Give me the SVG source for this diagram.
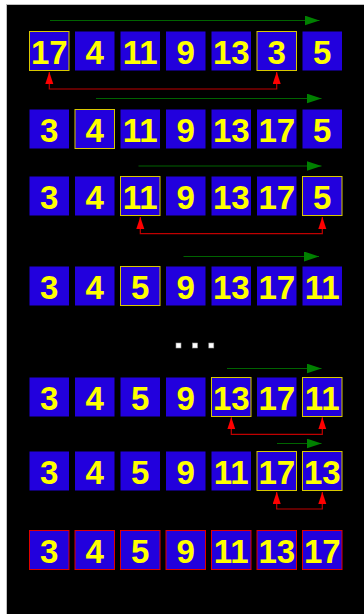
<svg xmlns="http://www.w3.org/2000/svg" width="364" height="614" viewBox="0 0 364 614">
<style>
.b{fill:#2200dd;stroke:none}
.h{fill:#2200dd;stroke:#d8c800;stroke-width:1}
.f{fill:#2200dd;stroke:#e00000;stroke-width:1}
.t{fill:#ffff00;font-family:"Liberation Sans",Arial,sans-serif;font-weight:bold;font-size:33px;text-anchor:middle}
.g{stroke:#006400;stroke-width:1;fill:none}
.r{stroke:#c00000;stroke-width:1.2;fill:none}
.d{fill:#ffffff;stroke:#999999;stroke-width:0.6}
</style>
<defs>
<marker id="ga" markerUnits="userSpaceOnUse" markerWidth="16" markerHeight="11" refX="15" refY="5" orient="auto"><path d="M0,0 L15,5 L0,10 Z" fill="#008000"/></marker>
<marker id="ra" markerUnits="userSpaceOnUse" markerWidth="13" markerHeight="9" refX="12" refY="4" orient="auto-start-reverse"><path d="M0,0 L12,4 L0,8 Z" fill="#ff0000"/></marker>
</defs>
<rect x="0" y="0" width="364" height="614" fill="#ffffff"/>
<rect x="6.5" y="4.5" width="360" height="612" fill="#000000" stroke="#c0c0c0" stroke-width="1"/>
<g id="r1">
<g id="n1_1"><rect class="h" x="29.5" y="31.5" width="39.5" height="39"/><text class="t" x="49.25" y="63.5">17</text></g>
<g id="n1_2"><rect class="b" x="75" y="31.5" width="39.5" height="39"/><text class="t" x="94.75" y="63.5">4</text></g>
<g id="n1_3"><rect class="b" x="120.5" y="31.5" width="39.5" height="39"/><text class="t" x="140.25" y="63.5">11</text></g>
<g id="n1_4"><rect class="b" x="166" y="31.5" width="39.5" height="39"/><text class="t" x="185.75" y="63.5">9</text></g>
<g id="n1_5"><rect class="b" x="211.5" y="31.5" width="39.5" height="39"/><text class="t" x="231.25" y="63.5">13</text></g>
<g id="n1_6"><rect class="h" x="257" y="31.5" width="39.5" height="39"/><text class="t" x="276.75" y="63.5">3</text></g>
<g id="n1_7"><rect class="b" x="302.5" y="31.5" width="39.5" height="39"/><text class="t" x="322.25" y="63.5">5</text></g>
</g>
<g id="r2">
<g id="n2_1"><rect class="b" x="29.5" y="109.5" width="39.5" height="39"/><text class="t" x="49.25" y="141.5">3</text></g>
<g id="n2_2"><rect class="h" x="75" y="109.5" width="39.5" height="39"/><text class="t" x="94.75" y="141.5">4</text></g>
<g id="n2_3"><rect class="b" x="120.5" y="109.5" width="39.5" height="39"/><text class="t" x="140.25" y="141.5">11</text></g>
<g id="n2_4"><rect class="b" x="166" y="109.5" width="39.5" height="39"/><text class="t" x="185.75" y="141.5">9</text></g>
<g id="n2_5"><rect class="b" x="211.5" y="109.5" width="39.5" height="39"/><text class="t" x="231.25" y="141.5">13</text></g>
<g id="n2_6"><rect class="b" x="257" y="109.5" width="39.5" height="39"/><text class="t" x="276.75" y="141.5">17</text></g>
<g id="n2_7"><rect class="b" x="302.5" y="109.5" width="39.5" height="39"/><text class="t" x="322.25" y="141.5">5</text></g>
</g>
<g id="r3">
<g id="n3_1"><rect class="b" x="29.5" y="176.5" width="39.5" height="39"/><text class="t" x="49.25" y="208.5">3</text></g>
<g id="n3_2"><rect class="b" x="75" y="176.5" width="39.5" height="39"/><text class="t" x="94.75" y="208.5">4</text></g>
<g id="n3_3"><rect class="h" x="120.5" y="176.5" width="39.5" height="39"/><text class="t" x="140.25" y="208.5">11</text></g>
<g id="n3_4"><rect class="b" x="166" y="176.5" width="39.5" height="39"/><text class="t" x="185.75" y="208.5">9</text></g>
<g id="n3_5"><rect class="b" x="211.5" y="176.5" width="39.5" height="39"/><text class="t" x="231.25" y="208.5">13</text></g>
<g id="n3_6"><rect class="b" x="257" y="176.5" width="39.5" height="39"/><text class="t" x="276.75" y="208.5">17</text></g>
<g id="n3_7"><rect class="h" x="302.5" y="176.5" width="39.5" height="39"/><text class="t" x="322.25" y="208.5">5</text></g>
</g>
<g id="r4">
<g id="n4_1"><rect class="b" x="29.5" y="266.5" width="39.5" height="39"/><text class="t" x="49.25" y="298.5">3</text></g>
<g id="n4_2"><rect class="b" x="75" y="266.5" width="39.5" height="39"/><text class="t" x="94.75" y="298.5">4</text></g>
<g id="n4_3"><rect class="h" x="120.5" y="266.5" width="39.5" height="39"/><text class="t" x="140.25" y="298.5">5</text></g>
<g id="n4_4"><rect class="b" x="166" y="266.5" width="39.5" height="39"/><text class="t" x="185.75" y="298.5">9</text></g>
<g id="n4_5"><rect class="b" x="211.5" y="266.5" width="39.5" height="39"/><text class="t" x="231.25" y="298.5">13</text></g>
<g id="n4_6"><rect class="b" x="257" y="266.5" width="39.5" height="39"/><text class="t" x="276.75" y="298.5">17</text></g>
<g id="n4_7"><rect class="b" x="302.5" y="266.5" width="39.5" height="39"/><text class="t" x="322.25" y="298.5">11</text></g>
</g>
<g id="ellipsis">
<rect class="d" x="176" y="343" width="5" height="5"/>
<rect class="d" x="192.5" y="343" width="5" height="5"/>
<rect class="d" x="208.8" y="343" width="5" height="5"/>
</g>
<g id="r5">
<g id="n5_1"><rect class="b" x="29.5" y="377.5" width="39.5" height="39"/><text class="t" x="49.25" y="409.5">3</text></g>
<g id="n5_2"><rect class="b" x="75" y="377.5" width="39.5" height="39"/><text class="t" x="94.75" y="409.5">4</text></g>
<g id="n5_3"><rect class="b" x="120.5" y="377.5" width="39.5" height="39"/><text class="t" x="140.25" y="409.5">5</text></g>
<g id="n5_4"><rect class="b" x="166" y="377.5" width="39.5" height="39"/><text class="t" x="185.75" y="409.5">9</text></g>
<g id="n5_5"><rect class="h" x="211.5" y="377.5" width="39.5" height="39"/><text class="t" x="231.25" y="409.5">13</text></g>
<g id="n5_6"><rect class="b" x="257" y="377.5" width="39.5" height="39"/><text class="t" x="276.75" y="409.5">17</text></g>
<g id="n5_7"><rect class="h" x="302.5" y="377.5" width="39.5" height="39"/><text class="t" x="322.25" y="409.5">11</text></g>
</g>
<g id="r6">
<g id="n6_1"><rect class="b" x="29.5" y="451.5" width="39.5" height="39"/><text class="t" x="49.25" y="483.5">3</text></g>
<g id="n6_2"><rect class="b" x="75" y="451.5" width="39.5" height="39"/><text class="t" x="94.75" y="483.5">4</text></g>
<g id="n6_3"><rect class="b" x="120.5" y="451.5" width="39.5" height="39"/><text class="t" x="140.25" y="483.5">5</text></g>
<g id="n6_4"><rect class="b" x="166" y="451.5" width="39.5" height="39"/><text class="t" x="185.75" y="483.5">9</text></g>
<g id="n6_5"><rect class="b" x="211.5" y="451.5" width="39.5" height="39"/><text class="t" x="231.25" y="483.5">11</text></g>
<g id="n6_6"><rect class="h" x="257" y="451.5" width="39.5" height="39"/><text class="t" x="276.75" y="483.5">17</text></g>
<g id="n6_7"><rect class="h" x="302.5" y="451.5" width="39.5" height="39"/><text class="t" x="322.25" y="483.5">13</text></g>
</g>
<g id="r7">
<g id="n7_1"><rect class="f" x="29.5" y="530.5" width="39.5" height="39"/><text class="t" x="49.25" y="562.5">3</text></g>
<g id="n7_2"><rect class="f" x="75" y="530.5" width="39.5" height="39"/><text class="t" x="94.75" y="562.5">4</text></g>
<g id="n7_3"><rect class="f" x="120.5" y="530.5" width="39.5" height="39"/><text class="t" x="140.25" y="562.5">5</text></g>
<g id="n7_4"><rect class="f" x="166" y="530.5" width="39.5" height="39"/><text class="t" x="185.75" y="562.5">9</text></g>
<g id="n7_5"><rect class="f" x="211.5" y="530.5" width="39.5" height="39"/><text class="t" x="231.25" y="562.5">11</text></g>
<g id="n7_6"><rect class="f" x="257" y="530.5" width="39.5" height="39"/><text class="t" x="276.75" y="562.5">13</text></g>
<g id="n7_7"><rect class="f" x="302.5" y="530.5" width="39.5" height="39"/><text class="t" x="322.25" y="562.5">17</text></g>
</g>
<g id="connectors">
<line class="g" x1="50" y1="20.5" x2="319.5" y2="20.5" marker-end="url(#ga)"/>
<line class="g" x1="96" y1="98.5" x2="321.5" y2="98.5" marker-end="url(#ga)"/>
<line class="g" x1="138.5" y1="166" x2="321.5" y2="166" marker-end="url(#ga)"/>
<line class="g" x1="183.5" y1="256.5" x2="319" y2="256.5" marker-end="url(#ga)"/>
<line class="g" x1="227" y1="368.5" x2="321.5" y2="368.5" marker-end="url(#ga)"/>
<line class="g" x1="277" y1="443.5" x2="321.5" y2="443.5" marker-end="url(#ga)"/>
<path class="r" d="M49.3,72 L49.3,89 L276.7,89 L276.7,72" marker-start="url(#ra)" marker-end="url(#ra)"/>
<path class="r" d="M140.3,217 L140.3,233.7 L322.3,233.7 L322.3,217" marker-start="url(#ra)" marker-end="url(#ra)"/>
<path class="r" d="M231.3,417.3 L231.3,434.3 L322.3,434.3 L322.3,417.3" marker-start="url(#ra)" marker-end="url(#ra)"/>
<path class="r" d="M276.7,492 L276.7,509 L322.3,509 L322.3,492" marker-start="url(#ra)" marker-end="url(#ra)"/>
</g>
</svg>
